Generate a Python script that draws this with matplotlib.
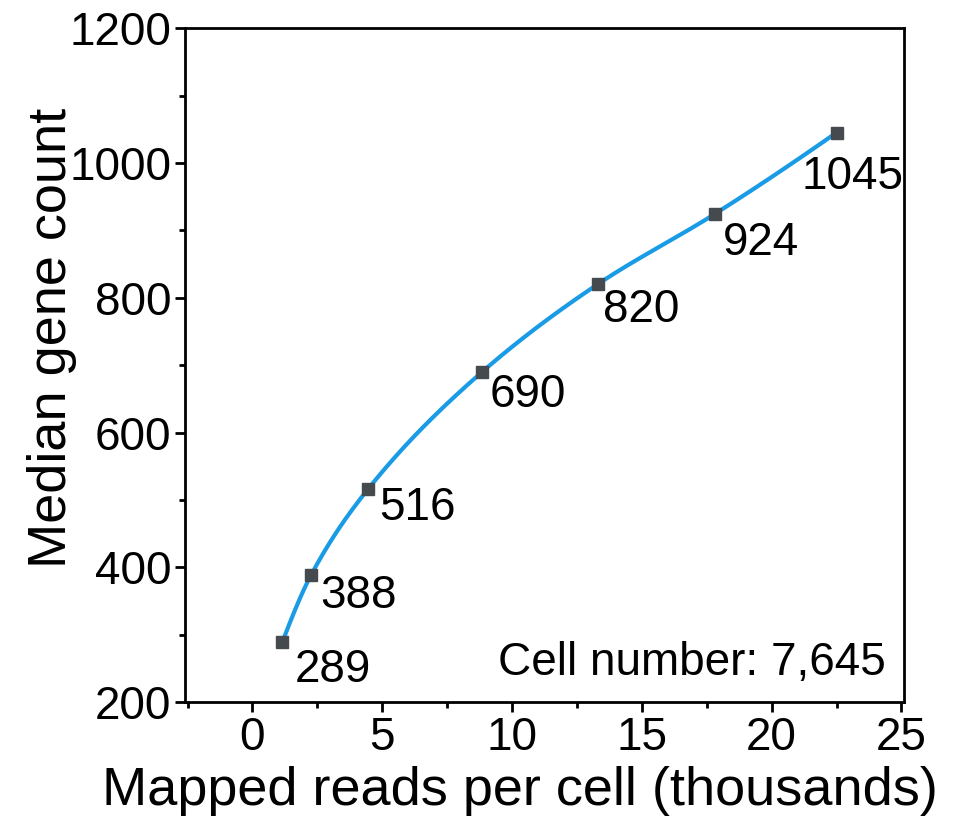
import numpy as np
import matplotlib.pyplot as plt

plt.rcParams['font.family'] = ['Liberation Sans', 'DejaVu Sans']

# mapped reads per cell (thousands) vs median genes detected
reads = [1.15, 2.25, 4.45, 8.85, 13.3, 17.8, 22.5]
genes = [289, 388, 516, 690, 820, 924, 1045]
labels = ['289', '388', '516', '690', '820', '924', '1045']
# label offsets in points (dx, dy) relative to each marker
offsets = [(9, -4), (7, 1), (8, 2), (5, -1), (4, -3), (6, -5), (-25, -16)]


def pchip(x, y, n=300):
    # shape-preserving cubic through the points (Fritsch-Carlson slopes)
    x = np.asarray(x, float)
    y = np.asarray(y, float)
    h = np.diff(x)
    d = np.diff(y) / h
    k = len(x)
    m = np.zeros(k)
    for i in range(1, k - 1):
        if d[i - 1] * d[i] > 0:
            w1 = 2 * h[i] + h[i - 1]
            w2 = h[i] + 2 * h[i - 1]
            m[i] = (w1 + w2) / (w1 / d[i - 1] + w2 / d[i])
    m[0] = ((2 * h[0] + h[1]) * d[0] - h[0] * d[1]) / (h[0] + h[1])
    m[-1] = ((2 * h[-1] + h[-2]) * d[-1] - h[-1] * d[-2]) / (h[-1] + h[-2])
    xs = np.linspace(x[0], x[-1], n)
    j = np.clip(np.searchsorted(x, xs) - 1, 0, k - 2)
    t = (xs - x[j]) / h[j]
    h00 = 2 * t**3 - 3 * t**2 + 1
    h10 = t**3 - 2 * t**2 + t
    h01 = -2 * t**3 + 3 * t**2
    h11 = t**3 - t**2
    ys = h00 * y[j] + h10 * h[j] * m[j] + h01 * y[j + 1] + h11 * h[j] * m[j + 1]
    return xs, ys


fig = plt.figure(figsize=(9.71, 8.27), dpi=100)
ax = fig.add_axes([0.1905, 0.151, 0.7405, 0.815])

xs, ys = pchip(reads, genes)
ax.plot(xs, ys, color='#1a9be6', lw=3, zorder=2)
ax.plot(reads, genes, 's', color='#454a4f', ms=8.5, zorder=3)

for x, y, s, (dx, dy) in zip(reads, genes, labels, offsets):
    ax.annotate(s, (x, y), xytext=(dx, dy), textcoords='offset points',
                ha='left', va='top', fontsize=33)

ax.text(0.975, 0.025, 'Cell number: 7,645', transform=ax.transAxes,
        ha='right', va='bottom', fontsize=33)

ax.set_xlim(-2.6, 25.1)
ax.set_ylim(200, 1200)
ax.set_xticks(range(0, 26, 5))
ax.set_xticks(np.arange(-2.5, 25, 2.5), minor=True)
ax.set_yticks(range(200, 1201, 200))
ax.set_yticks(range(300, 1200, 200), minor=True)

ax.tick_params(which='major', direction='out', length=7, width=2, labelsize=33, pad=3)
ax.tick_params(which='minor', direction='out', length=4, width=2)
for sp in ax.spines.values():
    sp.set_linewidth(2)

ax.set_xlabel('Mapped reads per cell (thousands)', fontsize=39)
ax.set_ylabel('Median gene count', fontsize=39)
ax.xaxis.set_label_coords(0.466, -0.095)
ax.yaxis.set_label_coords(-0.15, 0.54)

fig.savefig('out.png', dpi=100)
